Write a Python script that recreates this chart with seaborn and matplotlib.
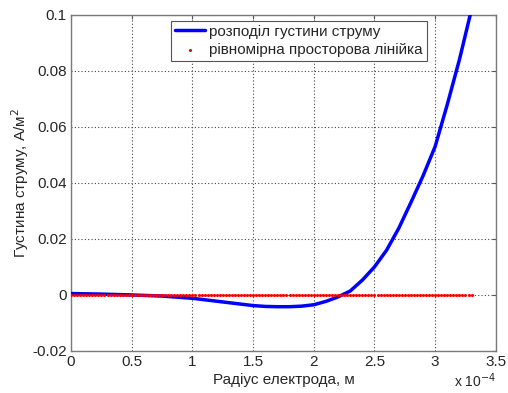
import numpy as np
import pandas as pd
import matplotlib
matplotlib.use("Agg")
import matplotlib.pyplot as plt
import seaborn as sns

# ──────────────────────────────────────────────
# data (radius in units of 1e-4 m)
# ──────────────────────────────────────────────
radius = [0.0, 0.25, 0.5, 0.75, 1.0, 1.25, 1.5, 1.6, 1.7, 1.8, 1.9, 2.0,
          2.1, 2.2, 2.3, 2.4, 2.5, 2.6, 2.7, 2.8, 2.9, 3.0, 3.1, 3.2, 3.3]
density = [0.0005, 0.0003, 0.0, -0.0004, -0.0012, -0.0025, -0.0038, -0.0041,
           -0.0042, -0.0042, -0.0040, -0.0035, -0.0023, -0.0007, 0.0014,
           0.0053, 0.0100, 0.0160, 0.0238, 0.0330, 0.0425, 0.0530, 0.0680,
           0.0840, 0.1020]
ruler_start, ruler_end, ruler_count = 0.0, 3.3, 133

xticks = [0, 0.5, 1, 1.5, 2, 2.5, 3, 3.5]
yticks = [-0.02, 0, 0.02, 0.04, 0.06, 0.08, 0.1]
ytick_labels = ["-0.02", "0", "0.02", "0.04", "0.06", "0.08", "0.1"]

label_curve = "розподіл густини струму"
label_ruler = "рівномірна просторова лінійка"

curve = pd.DataFrame({"r": radius, "j": density})
ruler = pd.DataFrame({"r": np.linspace(ruler_start, ruler_end, ruler_count),
                      "j": np.zeros(ruler_count)})

sns.set_style("white")
plt.rcParams["font.family"] = ["Liberation Sans", "DejaVu Sans"]
fs = 11

fig = plt.figure(figsize=(5.08, 3.93), dpi=100)
ax = fig.add_axes([0.140, 0.107, 0.836, 0.855])

sns.lineplot(data=curve, x="r", y="j", ax=ax, color="#0000ff", linewidth=2.5,
             label=label_curve, zorder=3)
sns.scatterplot(data=ruler, x="r", y="j", ax=ax, color="#ff0000", s=5,
                linewidth=0, marker="o", label=label_ruler, zorder=4)

ax.set_xlim(0, 3.5)
ax.set_ylim(-0.02, 0.1)
ax.set_xticks(xticks)
ax.set_xticklabels([f"{t:g}" for t in xticks])
ax.set_yticks(yticks)
ax.set_yticklabels(ytick_labels)
ax.tick_params(direction="in", length=3, labelsize=fs, color="#555555",
               top=True, right=True, pad=3)
ax.grid(True, linestyle=(0, (1, 2)), color="#444444", linewidth=0.8)
for s in ax.spines.values():
    s.set_color("#7a7a7a")
    s.set_linewidth(1.0)

ax.set_xlabel("Радіус електрода, м", fontsize=fs, labelpad=3)
ax.set_ylabel("Густина струму, А/м$^2$", fontsize=fs, labelpad=1)
ax.text(1.0, -0.108, "x 10$^{-4}$", transform=ax.transAxes, ha="right",
        va="baseline", fontsize=10)

leg = ax.legend(loc="upper center", bbox_to_anchor=(0.536, 0.982), fontsize=fs,
                frameon=True, fancybox=False, framealpha=1, edgecolor="#555555",
                handlelength=2.0, handletextpad=0.25, borderpad=0.25,
                labelspacing=0.3, markerscale=1.0, borderaxespad=0)
leg.get_frame().set_linewidth(0.8)

fig.savefig("out.png", dpi=100)
